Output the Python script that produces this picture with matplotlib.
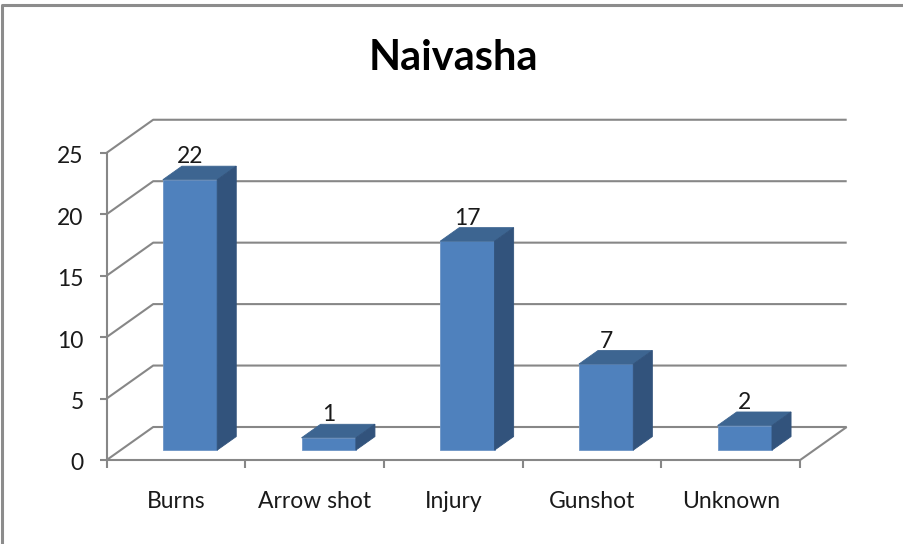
import matplotlib
matplotlib.use("Agg")
import matplotlib.pyplot as plt
from matplotlib.patches import Polygon

categories = ["Burns", "Arrow shot", "Injury", "Gunshot", "Unknown"]
counts = [22, 1, 17, 7, 2]
y_ticks = [0, 5, 10, 15, 20, 25]
title = "Naivasha"

plt.rcParams["font.family"] = ["Lato", "DejaVu Sans"]

# geometry of the fake 3-D box, in pixels of the 904x544 figure
W, H = 904, 544
CAT_PX = 138.7      # one category on the front edge of the floor
VAL_PX = 12.29      # one unit on the value axis
X0_PX = 106.7       # front-left corner of the floor
Y0_PX = 460         # front floor line (value 0)
DX = 46.5 / CAT_PX  # full depth offset, category units
DY = 33 / VAL_PX    # full depth offset, value units
BAR_W = 0.392
D_FRONT, D_BACK = 0.30, 0.71

FRONT = "#4f81bd"
TOP = "#3d6591"
SIDE = "#32537c"
GRID = "#878787"
TXT = "#1a1a1a"
FS = 16.5

fig = plt.figure(figsize=(W / 100, H / 100), dpi=100)
ax = fig.add_axes([0, 0, 1, 1])
ax.set_xlim(-0.5 - X0_PX / CAT_PX, -0.5 + (W - X0_PX) / CAT_PX)
ax.set_ylim((Y0_PX - H) / VAL_PX, Y0_PX / VAL_PX)
ax.axis("off")


def p(x, v, d):
    return (x + d * DX, v + d * DY)


def line(pts, **kw):
    xs, ys = zip(*pts)
    ax.plot(xs, ys, color=GRID, lw=1.5, solid_capstyle="butt", **kw)


n = len(categories)
left, right = -0.5, n - 0.5
vmax = y_ticks[-1]

# walls and gridlines
for t in y_ticks:
    line([p(left, t, 0), p(left, t, 1), p(right, t, 1)])
    # tick on the value axis
    line([p(left - 7 / CAT_PX, t, 0), p(left, t, 0)])
    ax.text(left - 23 / CAT_PX, t - 4 / VAL_PX, str(t), ha="right", va="center",
            fontsize=FS, color=TXT)

line([p(left, 0, 0), p(left, vmax, 0)])
line([p(left, 0, 0), p(right, 0, 0), p(right, 0, 1)])
for k in range(n + 1):
    xk = left + k
    line([p(xk, 0, 0), p(xk, -8 / VAL_PX, 0)])

# bars
for i, v in enumerate(counts):
    xl, xr = i - BAR_W / 2, i + BAR_W / 2
    front = [p(xl, 0, D_FRONT), p(xr, 0, D_FRONT), p(xr, v, D_FRONT), p(xl, v, D_FRONT)]
    top = [p(xl, v, D_FRONT), p(xr, v, D_FRONT), p(xr, v, D_BACK), p(xl, v, D_BACK)]
    side = [p(xr, 0, D_FRONT), p(xr, 0, D_BACK), p(xr, v, D_BACK), p(xr, v, D_FRONT)]
    ax.add_patch(Polygon(front, closed=True, facecolor=FRONT, edgecolor="#6d95c6", lw=0.6, zorder=3))
    ax.add_patch(Polygon(top, closed=True, facecolor=TOP, edgecolor=TOP, lw=0.6, zorder=3))
    ax.add_patch(Polygon(side, closed=True, facecolor=SIDE, edgecolor=SIDE, lw=0.6, zorder=3))
    lx, ly = p(i, v, D_FRONT)[0], p(i, v, D_BACK)[1]
    ax.text(lx, ly + 3 / VAL_PX, str(v), ha="center", va="baseline",
            fontsize=FS, color=TXT, zorder=4)

for i, c in enumerate(categories):
    ax.text(i, -42 / VAL_PX, c, ha="center", va="center", fontsize=FS, color=TXT)

fig.text(453 / W, 1 - 70 / H, title, ha="center", va="baseline",
         fontsize=30, fontweight="bold", color="black")

# chart border (right and bottom edges fall outside the picture)
fig.add_artist(plt.Line2D([2 / W, 2 / W, 1], [0, 1 - 5 / H, 1 - 5 / H],
                          transform=fig.transFigure, color="#8c8c8c", lw=2.2))

fig.savefig("out.png", dpi=100)
